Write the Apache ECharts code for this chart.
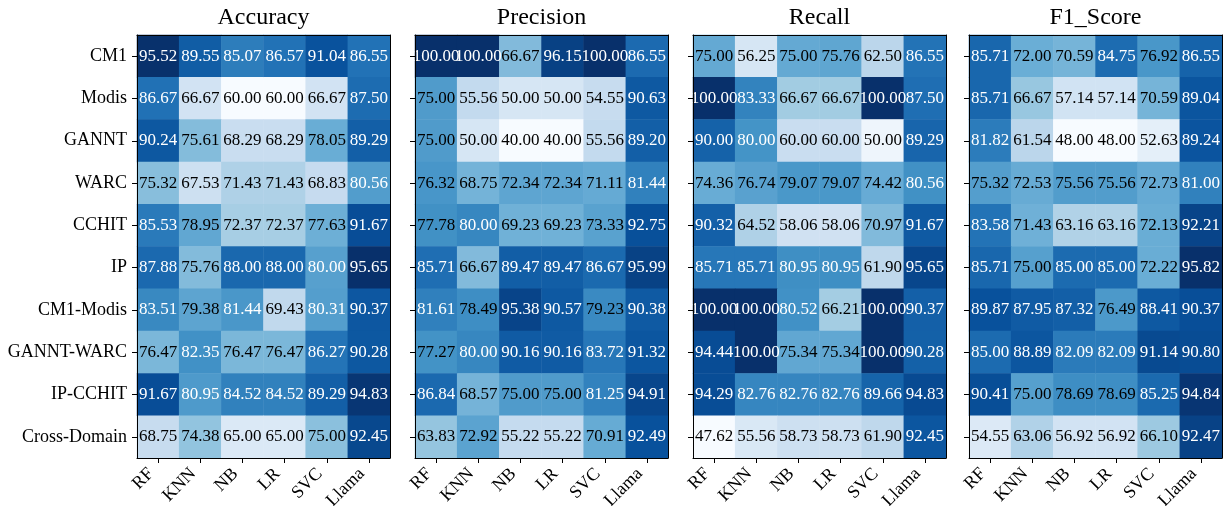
<!DOCTYPE html>
<html>
<head>
<meta charset="utf-8">
<script src="https://cdn.jsdelivr.net/npm/echarts@6/dist/echarts.min.js"></script>
<style>html,body{margin:0;padding:0;background:#fff}#c{width:1227px;height:506px}</style>
</head>
<body>
<div id="c"></div>
<script>
const datasets = ['CM1','Modis','GANNT','WARC','CCHIT','IP','CM1-Modis','GANNT-WARC','IP-CCHIT','Cross-Domain'];
const models = ['RF','KNN','NB','LR','SVC','Llama'];
const panelTitles = ['Accuracy','Precision','Recall','F1_Score'];

const accuracy = [
  [95.52, 89.55, 85.07, 86.57, 91.04, 86.55],
  [86.67, 66.67, 60.00, 60.00, 66.67, 87.50],
  [90.24, 75.61, 68.29, 68.29, 78.05, 89.29],
  [75.32, 67.53, 71.43, 71.43, 68.83, 80.56],
  [85.53, 78.95, 72.37, 72.37, 77.63, 91.67],
  [87.88, 75.76, 88.00, 88.00, 80.00, 95.65],
  [83.51, 79.38, 81.44, 69.43, 80.31, 90.37],
  [76.47, 82.35, 76.47, 76.47, 86.27, 90.28],
  [91.67, 80.95, 84.52, 84.52, 89.29, 94.83],
  [68.75, 74.38, 65.00, 65.00, 75.00, 92.45]
];
const precision = [
  [100.00, 100.00, 66.67, 96.15, 100.00, 86.55],
  [75.00, 55.56, 50.00, 50.00, 54.55, 90.63],
  [75.00, 50.00, 40.00, 40.00, 55.56, 89.20],
  [76.32, 68.75, 72.34, 72.34, 71.11, 81.44],
  [77.78, 80.00, 69.23, 69.23, 73.33, 92.75],
  [85.71, 66.67, 89.47, 89.47, 86.67, 95.99],
  [81.61, 78.49, 95.38, 90.57, 79.23, 90.38],
  [77.27, 80.00, 90.16, 90.16, 83.72, 91.32],
  [86.84, 68.57, 75.00, 75.00, 81.25, 94.91],
  [63.83, 72.92, 55.22, 55.22, 70.91, 92.49]
];
const recall = [
  [75.00, 56.25, 75.00, 75.76, 62.50, 86.55],
  [100.00, 83.33, 66.67, 66.67, 100.00, 87.50],
  [90.00, 80.00, 60.00, 60.00, 50.00, 89.29],
  [74.36, 76.74, 79.07, 79.07, 74.42, 80.56],
  [90.32, 64.52, 58.06, 58.06, 70.97, 91.67],
  [85.71, 85.71, 80.95, 80.95, 61.90, 95.65],
  [100.00, 100.00, 80.52, 66.21, 100.00, 90.37],
  [94.44, 100.00, 75.34, 75.34, 100.00, 90.28],
  [94.29, 82.76, 82.76, 82.76, 89.66, 94.83],
  [47.62, 55.56, 58.73, 58.73, 61.90, 92.45]
];
const f1score = [
  [85.71, 72.00, 70.59, 84.75, 76.92, 86.55],
  [85.71, 66.67, 57.14, 57.14, 70.59, 89.04],
  [81.82, 61.54, 48.00, 48.00, 52.63, 89.24],
  [75.32, 72.53, 75.56, 75.56, 72.73, 81.00],
  [83.58, 71.43, 63.16, 63.16, 72.13, 92.21],
  [85.71, 75.00, 85.00, 85.00, 72.22, 95.82],
  [89.87, 87.95, 87.32, 76.49, 88.41, 90.37],
  [85.00, 88.89, 82.09, 82.09, 91.14, 90.80],
  [90.41, 75.00, 78.69, 78.69, 85.25, 94.84],
  [54.55, 63.06, 56.92, 56.92, 66.10, 92.47]
];
const matrices = [accuracy, precision, recall, f1score];

const blues = ['#f7fbff','#deebf7','#c6dbef','#9ecae1','#6baed6','#4292c6','#2171b5','#08519c','#08306b'];
const FONT = 'Liberation Serif';
const panelLeft = [137, 415, 693, 969];
const panelWidth = 253;
const gridTop = 35;
const gridHeight = 423;

const grids = [], xAxes = [], yAxes = [], series = [], visualMaps = [], titles = [];
matrices.forEach((m, p) => {
  grids.push({left: panelLeft[p], top: gridTop, width: panelWidth, height: gridHeight,
              containLabel: false, outerBoundsMode: 'none'});
  titles.push({
    text: panelTitles[p], left: panelLeft[p] + panelWidth / 2, top: 6, textAlign: 'center', padding: 0,
    textStyle: {fontFamily: FONT, fontSize: 24, fontWeight: 'normal', color: '#000'}
  });
  xAxes.push({
    type: 'category', data: models, gridIndex: p, position: 'bottom', z: 10,
    axisLine: {show: true, lineStyle: {color: '#000', width: 1}},
    axisTick: {show: true, alignWithLabel: true, length: 5, lineStyle: {color: '#000'}},
    axisLabel: {show: true, rotate: 45, interval: 0, fontFamily: FONT, fontSize: 18, color: '#000',
                margin: 6, padding: [0, 10, 0, 0]},
    splitLine: {show: false}, splitArea: {show: false}
  });
  xAxes.push({
    type: 'category', data: models, gridIndex: p, position: 'top', z: 10,
    axisLine: {show: true, lineStyle: {color: '#000', width: 1}},
    axisTick: {show: false}, axisLabel: {show: false}, splitLine: {show: false}
  });
  yAxes.push({
    type: 'category', data: datasets, gridIndex: p, position: 'left', inverse: true, z: 10,
    axisLine: {show: true, lineStyle: {color: '#000', width: 1}},
    axisTick: {show: true, alignWithLabel: true, length: 5, lineStyle: {color: '#000'}},
    axisLabel: {show: p === 0, interval: 0, fontFamily: FONT, fontSize: 18, color: '#000', margin: 10},
    splitLine: {show: false}, splitArea: {show: false}
  });
  yAxes.push({
    type: 'category', data: datasets, gridIndex: p, position: 'right', inverse: true, z: 10,
    axisLine: {show: true, lineStyle: {color: '#000', width: 1}},
    axisTick: {show: false}, axisLabel: {show: false}, splitLine: {show: false}
  });
  const data = [];
  let mn = Infinity, mx = -Infinity;
  m.forEach((row, r) => row.forEach((v, c) => {
    mn = Math.min(mn, v); mx = Math.max(mx, v);
    data.push({value: [c, r, v], label: {color: v >= 80 ? '#ffffff' : '#000000'}});
  }));
  visualMaps.push({
    show: false, type: 'continuous', seriesIndex: p, dimension: 2, min: mn, max: mx,
    inRange: {color: blues}
  });
  series.push({
    type: 'heatmap', xAxisIndex: 2 * p, yAxisIndex: 2 * p, data: data,
    itemStyle: {borderWidth: 0},
    label: {
      show: true, fontFamily: FONT, fontSize: 17,
      formatter: (prm) => prm.value[2].toFixed(2)
    },
    emphasis: {disabled: true}
  });
});

const chart = echarts.init(document.getElementById('c'), null, {renderer: 'canvas'});
chart.setOption({
  animation: false,
  backgroundColor: '#fff',
  title: titles,
  grid: grids,
  xAxis: xAxes,
  yAxis: yAxes,
  visualMap: visualMaps,
  series: series
});
</script>
</body>
</html>
